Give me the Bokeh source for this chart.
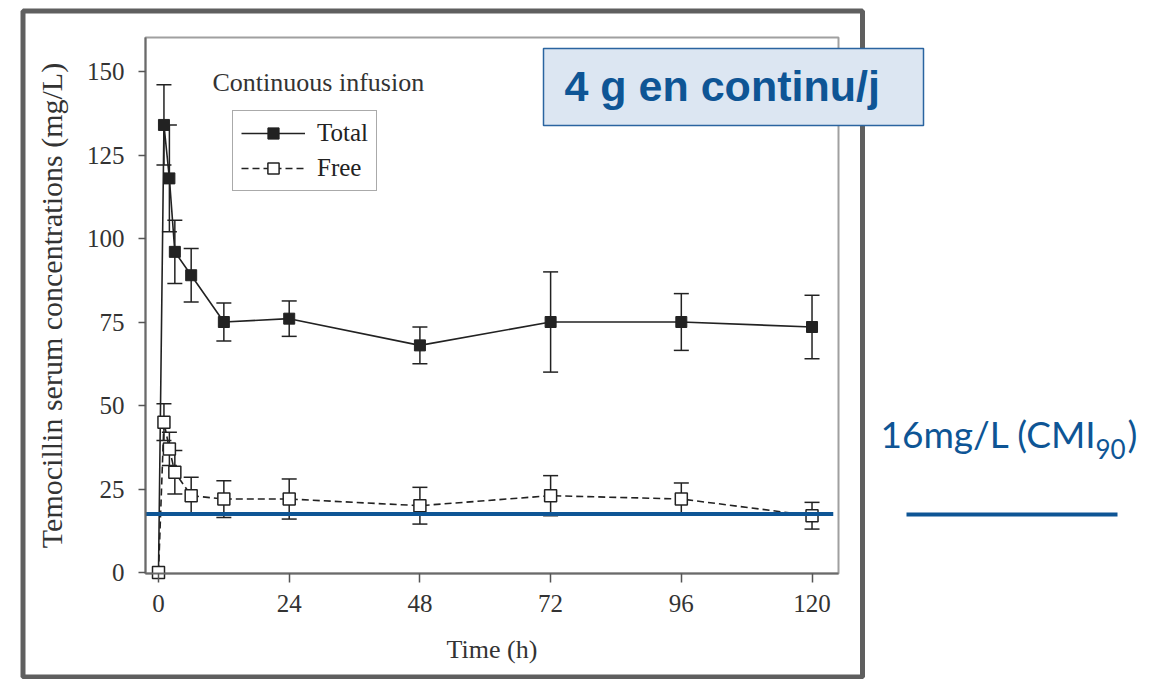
from bokeh.plotting import figure
from bokeh.models import (ColumnDataSource, Whisker, TeeHead, Range1d, FixedTicker,
                          Label, Legend, LegendItem)
from bokeh.embed import file_html
from bokeh.resources import INLINE

# ---- data ----
time_h = [0, 1, 2, 3, 6, 12, 24, 48, 72, 96, 120]
total_conc = [0, 134, 118, 96, 89, 75, 76, 68, 75, 75, 73.5]
total_sd = [0, 12, 16, 9.5, 8, 5.7, 5.3, 5.5, 15, 8.5, 9.5]
free_conc = [0, 45, 37, 30, 23, 22, 22, 20, 23, 22, 17]
free_sd = [0, 5.5, 5, 6.5, 5.5, 5.5, 6, 5.5, 6, 4.8, 4]
mic_level = 17.5
mic_x = [-2.39, 123.9]
x_ticks = [0, 24, 48, 72, 96, 120]
y_ticks = [0, 25, 50, 75, 100, 125, 150]
x_bounds = (-2.39, 124.86)
y_bounds = (-0.3, 160.2)

INK = "#222222"
BLUE = "#0E5595"
SERIF = "Liberation Serif"
W, H = 1168, 679

# scale: t=0 at px 158, 5.446 px per hour; value 0 at py 572, 3.34 px per mg/L
PX_PER_H, X0 = 5.446, 158.0
PX_PER_U, Y0 = 3.34, 572.0

p = figure(width=W, height=H, output_backend="svg", toolbar_location=None,
           x_range=Range1d(-X0 / PX_PER_H, (W - X0) / PX_PER_H),
           y_range=Range1d(-(H - Y0) / PX_PER_U, Y0 / PX_PER_U),
           min_border=0, background_fill_color="white", border_fill_color="white")
p.outline_line_color = None
p.xgrid.visible = False
p.ygrid.visible = False
p.extra_x_ranges = {"px": Range1d(0, W)}
p.extra_y_ranges = {"px": Range1d(H, 0)}

# slide decorations in pixel space
p.quad(left=[22.5], right=[862], top=[10.5], bottom=[676.5], x_range_name="px",
       y_range_name="px", fill_alpha=0, line_color="#5f5f5f", line_width=5)
p.quad(left=[145], right=[838], top=[37], bottom=[573], x_range_name="px",
       y_range_name="px", fill_alpha=0, line_color="#a0a0a0", line_width=2)

for ax, ticks, loc, bnds in ((p.xaxis, x_ticks, y_bounds[0], x_bounds),
                             (p.yaxis, y_ticks, x_bounds[0], y_bounds)):
    ax.fixed_location = loc
    ax.bounds = bnds
    ax.ticker = FixedTicker(ticks=ticks)
    ax.minor_tick_line_color = None
    ax.axis_line_color = "#6a6a6a"
    ax.axis_line_width = 2
    ax.major_tick_line_color = "#555555"
    ax.major_tick_line_width = 1.5
    ax.major_tick_in = 0
    ax.major_label_text_font = SERIF
    ax.major_label_text_font_size = "25px"
    ax.major_label_text_color = "#333333"
    ax.axis_label_text_font = SERIF
    ax.axis_label_text_font_style = "normal"
    ax.axis_label_text_color = "#333333"

p.xaxis.major_tick_out = 9
p.xaxis.major_label_standoff = 12
p.xaxis.axis_label = "Time (h)"
p.xaxis.axis_label_text_font_size = "26px"
p.xaxis.axis_label_standoff = 20
p.yaxis.major_tick_out = 7
p.yaxis.major_label_standoff = 14
p.yaxis.axis_label = "Temocillin serum concentrations (mg/L)"
p.yaxis.axis_label_text_font_size = "30px"
p.yaxis.axis_label_standoff = 16

src = ColumnDataSource(dict(
    t=time_h, total=total_conc, free=free_conc,
    tu=[v + e for v, e in zip(total_conc, total_sd)],
    tl=[v - e for v, e in zip(total_conc, total_sd)],
    fu=[v + e for v, e in zip(free_conc, free_sd)],
    fl=[v - e for v, e in zip(free_conc, free_sd)],
))
err_src = ColumnDataSource({k: v[1:] for k, v in src.data.items()})

for up, lo in (("tu", "tl"), ("fu", "fl")):
    p.add_layout(Whisker(base="t", upper=up, lower=lo, source=err_src,
                         line_color=INK, line_width=1.5,
                         upper_head=TeeHead(size=15, line_color=INK, line_width=1.5),
                         lower_head=TeeHead(size=15, line_color=INK, line_width=1.5)))

l_tot = p.line("t", "total", source=src, line_color=INK, line_width=1.6)
l_free = p.line("t", "free", source=src, line_color=INK, line_width=1.6, line_dash="7 4")
s_tot = p.scatter("t", "total", source=src, marker="square", size=11,
                  fill_color=INK, line_color=INK)
s_free = p.scatter("t", "free", source=src, marker="square", size=12,
                   fill_color="white", line_color=INK, line_width=1.5)

p.line(mic_x, [mic_level, mic_level], line_color=BLUE, line_width=4)

# blue title box (on top of the frames)
p.quad(left=[543], right=[923], top=[48], bottom=[125], x_range_name="px",
       y_range_name="px", fill_color="#dce6f2", line_color="#2a64a0", line_width=1.5)
# MIC sample line on the right
p.quad(left=[906], right=[1117], top=[512], bottom=[516], x_range_name="px",
       y_range_name="px", fill_color=BLUE, line_alpha=0)

legend = Legend(items=[LegendItem(label="Total", renderers=[l_tot, s_tot]),
                       LegendItem(label="Free", renderers=[l_free, s_free])],
                location=(232, H - 191), label_text_font=SERIF, label_text_font_size="25px",
                label_text_color="#222222", glyph_width=64, glyph_height=28,
                label_height=28, label_standoff=12, padding=8, spacing=7, margin=0,
                border_line_color="#555555", border_line_width=1.5,
                background_fill_color="white")
p.add_layout(legend)


def label(x, y, text, size, **kw):
    # y is the wanted baseline in canvas px; compensate the renderer's baseline offset
    p.add_layout(Label(x=x, y=H - y + 0.37 * size, x_units="screen", y_units="screen",
                       text=text, text_font_size=f"{size}px",
                       text_baseline="alphabetic", level="overlay", **kw))


label(212, 92, "Continuous infusion", 26, text_font=SERIF, text_color="#333333")
label(564, 101.5, "4 g en continu/j", 43, text_font="Liberation Sans",
      text_font_style="bold", text_color=BLUE)
label(880, 447, "16mg/L (CMI", 37, text_font="Lato", text_color=BLUE)
label(1095, 458, "90", 26, text_font="Lato", text_color=BLUE)
label(1127, 447, ")", 37, text_font="Lato", text_color=BLUE)

open("out.html", "w").write(file_html(p, INLINE))
